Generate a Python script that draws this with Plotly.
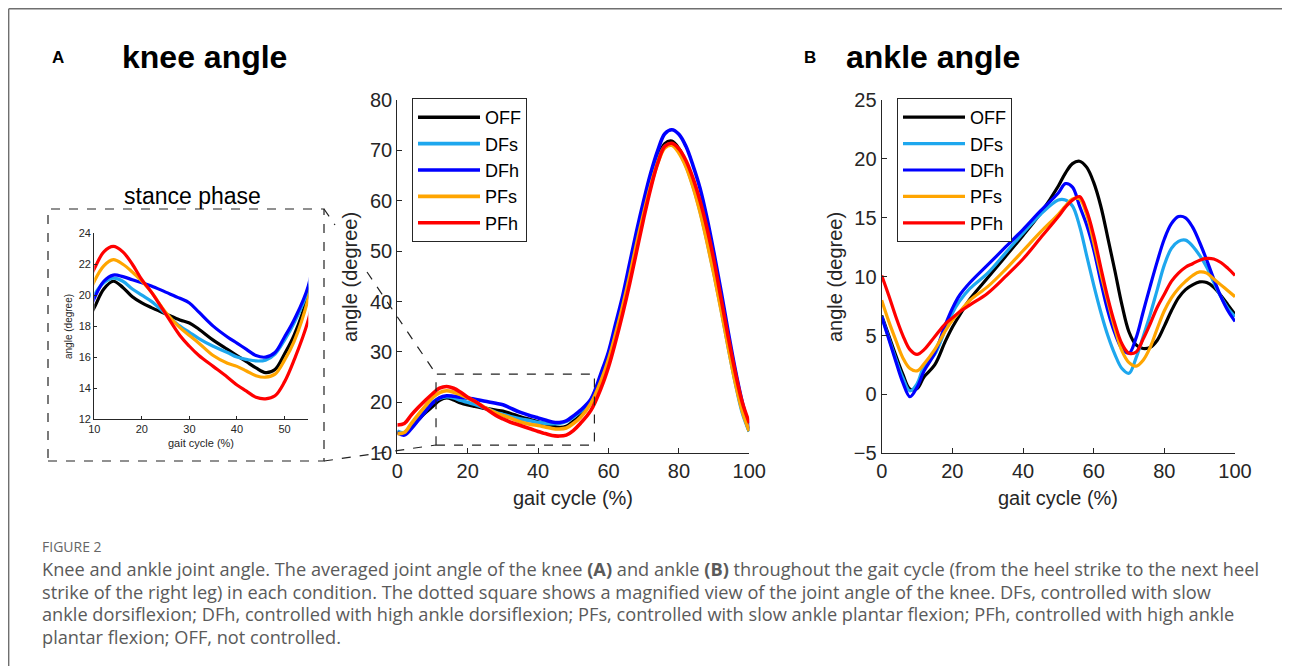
import plotly.graph_objects as go

# ---------------- data ----------------
series_names = ["OFF", "DFs", "DFh", "PFs", "PFh"]
series_colors = ["#000000", "#1EA7EE", "#0000FF", "#FFA500", "#FF0000"]

knee_x = [0, 2, 4, 6, 8, 10, 12, 14, 16, 18, 20, 22, 25, 28, 30, 32, 35, 38,
          40, 42, 44, 46, 48, 50, 52, 55, 58, 60, 62, 64, 66, 68, 70, 72, 74, 76,
          78, 80, 82, 84, 86, 88, 90, 92, 94, 96, 98, 100]
knee_off = [14.2, 13.9, 15.2, 16.6, 18.0, 19.2, 20.4, 20.9, 20.5, 19.9, 19.5, 19.2,
            18.8, 18.4, 18.2, 17.8, 17.1, 16.5, 16.1, 15.7, 15.3, 15.0, 15.2, 16.2,
            17.4, 20.1, 25.5, 29.5, 34.5, 40.0, 46.0, 52.5, 58.5, 64.0, 68.5, 71.3,
            71.8, 70.3, 67.5, 63.5, 58.5, 52.5, 46.0, 39.0, 31.5, 24.5, 18.5, 14.3]
knee_dfs = [14.3, 14.0, 15.3, 16.8, 18.4, 20.0, 20.8, 21.1, 20.9, 20.4, 20.0, 19.6,
            18.8, 18.0, 17.6, 17.2, 16.7, 16.3, 16.0, 15.85, 15.75, 15.8, 16.2, 17.1,
            18.2, 20.4, 25.5, 29.5, 34.5, 40.0, 46.0, 52.0, 58.0, 63.5, 68.0, 70.8,
            71.3, 69.8, 67.0, 63.0, 58.0, 52.0, 45.5, 38.5, 31.0, 24.0, 18.0, 14.2]
knee_dfh = [14.0, 13.5, 14.8, 16.5, 18.2, 19.8, 20.9, 21.3, 21.2, 21.0, 20.8, 20.6,
            20.2, 19.8, 19.5, 18.9, 18.0, 17.3, 16.9, 16.5, 16.1, 16.0, 16.3, 17.3,
            18.4, 20.6, 26.0, 30.0, 35.5, 41.0, 47.5, 54.0, 60.0, 65.5, 70.0, 73.3,
            74.1, 73.2, 70.8, 67.0, 62.5, 56.5, 49.5, 42.0, 34.0, 26.5, 20.0, 14.8]
knee_pfs = [13.8, 14.0, 15.8, 17.6, 19.3, 20.9, 21.9, 22.3, 22.0, 21.5, 20.9, 20.2,
            18.9, 17.9, 17.4, 16.9, 16.1, 15.6, 15.4, 15.1, 14.8, 14.7, 14.9, 15.8,
            17.0, 19.8, 24.5, 28.5, 33.5, 39.0, 45.0, 51.5, 57.5, 63.0, 67.5, 70.5,
            71.0, 69.5, 66.8, 62.8, 57.8, 51.8, 45.3, 38.3, 31.0, 24.0, 18.3, 14.3]
knee_pfh = [15.5, 15.8, 17.5, 19.0, 20.4, 21.7, 22.8, 23.15, 22.8, 22.0, 21.0, 20.2,
            18.8, 17.4, 16.7, 16.1, 15.4, 14.7, 14.2, 13.8, 13.4, 13.3, 13.5, 14.4,
            15.8, 18.4, 23.0, 27.0, 32.0, 37.5, 43.5, 50.0, 56.5, 62.5, 67.5, 70.8,
            71.4, 70.3, 68.0, 64.5, 60.0, 54.5, 48.0, 40.5, 33.0, 26.0, 20.0, 15.9]

ankle_x = [0, 2, 4, 6, 8, 10, 12, 15, 18, 20, 22, 25, 30, 35, 40, 45, 50, 52,
           54, 56, 58, 60, 62, 64, 66, 68, 70, 72, 74, 76, 78, 80, 82, 84, 86, 88,
           90, 92, 94, 96, 98, 100]
ankle_off = [6.7, 5.0, 3.3, 1.7, 0.45, 0.5, 1.5, 2.5, 4.5, 5.7, 6.7, 8.1,
             9.9, 11.7, 13.5, 15.4, 17.7, 18.8, 19.6, 19.8, 19.3, 18.0, 16.0, 13.3,
             10.5, 7.6, 5.3, 4.2, 3.9, 4.0, 4.6, 5.8, 7.1, 8.2, 8.9, 9.3,
             9.55, 9.5, 9.1, 8.4, 7.6, 6.8]
ankle_dfs = [6.6, 4.8, 3.0, 1.4, 0.3, 0.9, 2.4, 3.4, 5.5, 6.9, 7.9, 9.0,
             10.3, 12.0, 13.7, 15.3, 16.5, 16.5, 16.0, 14.3, 11.8, 9.3, 7.0, 5.0,
             3.4, 2.2, 1.8, 3.1, 4.9, 6.8, 8.9, 11.0, 12.4, 13.0, 13.1, 12.6,
             11.8, 10.8, 9.5, 8.3, 7.3, 6.6]
ankle_dfh = [6.6, 4.7, 2.8, 1.0, -0.2, 0.6, 2.0, 3.5, 5.9, 7.3, 8.4, 9.5,
             11.0, 12.5, 14.0, 15.6, 17.1, 17.9, 17.6, 16.0, 14.4, 12.3, 9.6, 7.1,
             5.2, 3.9, 3.5, 4.8, 7.0, 9.2, 11.3, 13.2, 14.5, 15.1, 15.0, 14.2,
             12.9, 11.4, 9.8, 8.3, 7.1, 6.2]
ankle_pfs = [8.0, 6.2, 4.6, 3.1, 2.2, 2.0, 2.6, 3.8, 5.4, 6.3, 7.0, 8.0,
             9.15, 10.6, 12.2, 13.8, 15.3, 16.0, 16.6, 16.6, 15.3, 12.9, 10.3, 7.9,
             5.6, 3.7, 2.7, 2.4, 2.9, 4.0, 5.6, 7.1, 8.2, 9.0, 9.6, 10.1,
             10.4, 10.3, 9.8, 9.3, 8.8, 8.3]
ankle_pfh = [10.1, 8.4, 6.6, 5.0, 3.8, 3.4, 3.8, 4.9, 6.0, 6.5, 7.0, 7.6,
             8.6, 10.0, 11.5, 13.3, 15.1, 15.9, 16.5, 16.8, 15.6, 13.5, 10.8, 8.2,
             6.0, 4.3, 3.5, 3.6, 4.7, 6.0, 7.4, 8.5, 9.6, 10.3, 10.8, 11.1,
             11.4, 11.55, 11.5, 11.2, 10.7, 10.1]

knee_series = [knee_off, knee_dfs, knee_dfh, knee_pfs, knee_pfh]
ankle_series = [ankle_off, ankle_dfs, ankle_dfh, ankle_pfs, ankle_pfh]

knee_yticks = [10, 20, 30, 40, 50, 60, 70, 80]
ankle_yticks = [-5, 0, 5, 10, 15, 20, 25]
main_xticks = [0, 20, 40, 60, 80, 100]
inset_xticks = [10, 20, 30, 40, 50]
inset_yticks = [12, 14, 16, 18, 20, 22, 24]

caption_lines = [
    "Knee and ankle joint angle. The averaged joint angle of the knee <b>(A)</b> and ankle <b>(B)</b> throughout the gait cycle (from the heel strike to the next heel",
    "strike of the right leg) in each condition. The dotted square shows a magnified view of the joint angle of the knee. DFs, controlled with slow",
    "ankle dorsiflexion; DFh, controlled with high ankle dorsiflexion; PFs, controlled with slow ankle plantar flexion; PFh, controlled with high ankle",
    "plantar flexion; OFF, not controlled.",
]

# ---------------- figure ----------------
# The page body has an 8px margin, so the figure is sized to the remaining
# viewport and screen pixel positions are offset by that margin.
OFF_PX = 8
W, H = 1290 - OFF_PX, 666 - OFF_PX
FONT = "Liberation Sans, Arial, sans-serif"
AX = "#262626"

fig = go.Figure()

for name, col, ys in zip(series_names, series_colors, knee_series):
    fig.add_trace(go.Scatter(x=knee_x, y=ys, name=name, mode="lines",
                             line=dict(color=col, width=3.6, shape="spline"),
                             xaxis="x", yaxis="y", legend="legend"))
for name, col, ys in zip(series_names, series_colors, ankle_series):
    fig.add_trace(go.Scatter(x=ankle_x, y=ys, name=name, mode="lines",
                             line=dict(color=col, width=3.2, shape="spline"),
                             xaxis="x2", yaxis="y2", legend="legend2"))
for name, col, ys in zip(series_names, series_colors, knee_series):
    fig.add_trace(go.Scatter(x=knee_x, y=ys, name=name, mode="lines", showlegend=False,
                             line=dict(color=col, width=3.2, shape="spline"),
                             xaxis="x3", yaxis="y3"))


def px_x(p):
    return (p - OFF_PX) / W


def px_y(p):
    return 1 - (p - OFF_PX) / H


def axis(dom, rng, ticks, anchor, size, ticklen):
    return dict(domain=dom, range=rng, tickvals=ticks, anchor=anchor,
                showline=True, linecolor=AX, linewidth=1.3, ticks="inside",
                ticklen=ticklen, tickcolor=AX, tickwidth=1.2, showgrid=False,
                zeroline=False, tickfont=dict(family=FONT, size=size, color=AX),
                fixedrange=True, automargin=False)


legend_style = dict(xanchor="left", yanchor="top", bgcolor="white",
                    bordercolor=AX, borderwidth=1, tracegroupgap=0, itemwidth=62,
                    font=dict(family=FONT, size=18, color="black"))

fig.update_layout(
    template="none",
    width=W, height=H, autosize=False,
    margin=dict(l=0, r=0, t=0, b=0, pad=0),
    paper_bgcolor="white", plot_bgcolor="white",
    xaxis=axis([px_x(397.3), px_x(749.3)], [0, 100], main_xticks, "y", 20, 5),
    yaxis=axis([px_y(452.7), px_y(100)], [10, 80], knee_yticks, "x", 20, 5),
    xaxis2=axis([px_x(881.7), px_x(1235)], [0, 100], main_xticks, "y2", 20, 5),
    yaxis2=axis([px_y(453.3), px_y(100)], [-5, 25], ankle_yticks, "x2", 20, 5),
    xaxis3=axis([px_x(94.3), px_x(308.3)], [10, 55], inset_xticks, "y3", 11, 3),
    yaxis3=axis([px_y(419), px_y(233.3)], [12, 24], inset_yticks, "x3", 11, 3),
    legend=dict(x=px_x(412), y=px_y(98), **legend_style),
    legend2=dict(x=px_x(897), y=px_y(98), **legend_style),
)

# decorations
dash = dict(color="#222222", width=1.2, dash="dash")
frame = dict(color="#6f6f6f", width=1.4)
shapes = [
    dict(type="rect", xref="x", yref="y", x0=11, x1=56, y0=11.5, y1=25.6, line=dash),
    dict(type="rect", xref="paper", yref="paper", x0=px_x(48), x1=px_x(324),
         y0=px_y(461), y1=px_y(209), line=dash),
    dict(type="line", xref="paper", yref="paper", x0=px_x(324), y0=px_y(209),
         x1=px_x(335), y1=px_y(225), line=dash),
    dict(type="line", xref="paper", yref="paper", x0=px_x(367), y0=px_y(272),
         x1=px_x(436), y1=px_y(374), line=dash),
    dict(type="line", xref="paper", yref="paper", x0=px_x(324), y0=px_y(461),
         x1=px_x(436), y1=px_y(445), line=dash),
    dict(type="line", xref="paper", yref="paper", x0=px_x(8.7), y0=px_y(8.7),
         x1=1, y1=px_y(8.7), line=frame),
    dict(type="line", xref="paper", yref="paper", x0=px_x(8.7), y0=px_y(8.7),
         x1=px_x(8.7), y1=0, line=frame),
]
fig.update_layout(shapes=shapes)

ann = []


def text(x, y, s, size, xanchor="center", yanchor="middle", angle=0,
         color=AX, family=FONT):
    ann.append(dict(xref="paper", yref="paper", x=px_x(x), y=px_y(y), text=s,
                    showarrow=False, xanchor=xanchor, yanchor=yanchor,
                    textangle=angle, font=dict(family=family, size=size, color=color)))


# axis titles
text(573, 498, "gait cycle (%)", 20)
text(350, 277, "angle (degree)", 20, angle=-90)
text(1058, 498, "gait cycle (%)", 20)
text(835, 277, "angle (degree)", 20, angle=-90)
text(201, 443, "gait cycle (%)", 11)
text(68, 327, "angle (degree)", 10, angle=-90)
# panel titles
text(58, 57, "<b>A</b>", 17, color="black")
text(120, 57, "<b>knee angle</b>", 32, xanchor="left", color="black")
text(810, 57, "<b>B</b>", 17, color="black")
text(844, 57, "<b>ankle angle</b>", 32, xanchor="left", color="black")
text(192, 196, "stance phase", 23, color="black")
# caption
text(40, 546, "FIGURE 2", 14, xanchor="left", color="#666666", family="Open Sans, sans-serif")
for i, line in enumerate(caption_lines):
    text(40, 569 + i * 22.7, line, 18.2, xanchor="left", color="#5a5a5a",
         family="Open Sans, sans-serif")

fig.update_layout(annotations=ann)

fig.write_html("out.html")
